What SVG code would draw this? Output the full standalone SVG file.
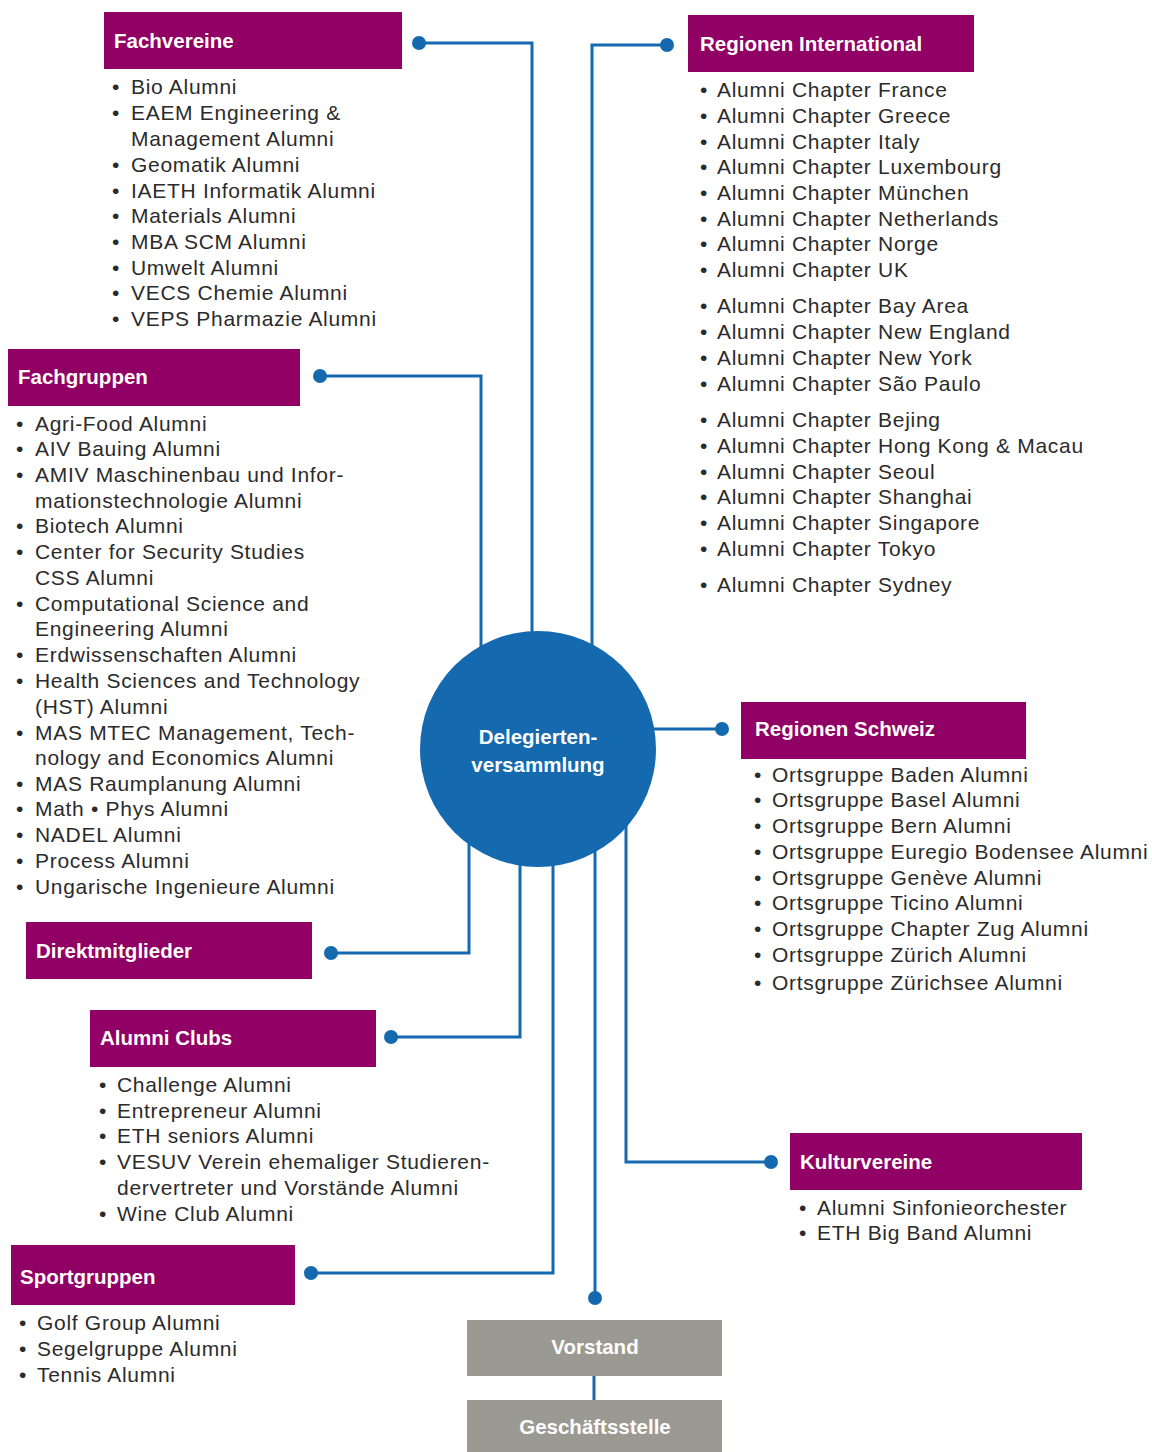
<svg xmlns="http://www.w3.org/2000/svg" width="1152" height="1452" viewBox="0 0 1152 1452">
<style>
.hdr{fill:#910064}
.gry{fill:#9b9a92}
.ht{font-family:"Liberation Sans",Arial,sans-serif;font-weight:bold;font-size:20.5px;fill:#fff}
.ct{font-family:"Liberation Sans",Arial,sans-serif;font-weight:bold;font-size:20.5px;fill:#fff;text-anchor:middle}
.li{font-family:"Liberation Sans",Arial,sans-serif;font-size:21px;letter-spacing:0.7px;fill:#2b2b2b}
.con{fill:none;stroke:#1569af;stroke-width:3}
.dot{fill:#1569af}
</style>
<rect width="1152" height="1452" fill="#fff"/>
<g id="connectors">
<path class="con" d="M419,43 H532 V700"/>
<circle class="dot" cx="419" cy="43" r="7"/>
<path class="con" d="M667,45 H592 V700"/>
<circle class="dot" cx="667" cy="45" r="7"/>
<path class="con" d="M320,376 H481 V700"/>
<circle class="dot" cx="320" cy="376" r="7"/>
<path class="con" d="M722,729 H620"/>
<circle class="dot" cx="722" cy="729" r="7"/>
<path class="con" d="M331,953 H469 V800"/>
<circle class="dot" cx="331" cy="953" r="7"/>
<path class="con" d="M391,1037 H520 V800"/>
<circle class="dot" cx="391" cy="1037" r="7"/>
<path class="con" d="M311,1273 H553 V800"/>
<circle class="dot" cx="311" cy="1273" r="7"/>
<path class="con" d="M595,800 V1298"/>
<circle class="dot" cx="595" cy="1298" r="7"/>
<path class="con" d="M771,1162 H626 V800"/>
<circle class="dot" cx="771" cy="1162" r="7"/>
<path class="con" d="M594,1370 V1405"/>
</g>
<g id="delegiertenversammlung">
<circle cx="538" cy="749" r="118" fill="#1569af"/>
<text class="ct" x="538" y="744">Delegierten-</text>
<text class="ct" x="538" y="772">versammlung</text>
</g>
<g id="fachvereine">
<rect class="hdr" x="104" y="12" width="298" height="57"/>
<text class="ht" x="114" y="48">Fachvereine</text>
<text class="li"><tspan x="112" y="94">•</tspan><tspan x="131" y="94">Bio Alumni</tspan><tspan x="112" y="120">•</tspan><tspan x="131" y="120">EAEM Engineering &amp;</tspan><tspan x="131" y="146">Management Alumni</tspan><tspan x="112" y="172">•</tspan><tspan x="131" y="172">Geomatik Alumni</tspan><tspan x="112" y="198">•</tspan><tspan x="131" y="198">IAETH Informatik Alumni</tspan><tspan x="112" y="223">•</tspan><tspan x="131" y="223">Materials Alumni</tspan><tspan x="112" y="249">•</tspan><tspan x="131" y="249">MBA SCM Alumni</tspan><tspan x="112" y="275">•</tspan><tspan x="131" y="275">Umwelt Alumni</tspan><tspan x="112" y="300">•</tspan><tspan x="131" y="300">VECS Chemie Alumni</tspan><tspan x="112" y="326">•</tspan><tspan x="131" y="326">VEPS Pharmazie Alumni</tspan></text>
</g>
<g id="regionen-international">
<rect class="hdr" x="688" y="15" width="286" height="57"/>
<text class="ht" x="700" y="51">Regionen International</text>
<text class="li"><tspan x="700" y="97">•</tspan><tspan x="717" y="97">Alumni Chapter France</tspan><tspan x="700" y="123">•</tspan><tspan x="717" y="123">Alumni Chapter Greece</tspan><tspan x="700" y="149">•</tspan><tspan x="717" y="149">Alumni Chapter Italy</tspan><tspan x="700" y="174">•</tspan><tspan x="717" y="174">Alumni Chapter Luxembourg</tspan><tspan x="700" y="200">•</tspan><tspan x="717" y="200">Alumni Chapter München</tspan><tspan x="700" y="226">•</tspan><tspan x="717" y="226">Alumni Chapter Netherlands</tspan><tspan x="700" y="251">•</tspan><tspan x="717" y="251">Alumni Chapter Norge</tspan><tspan x="700" y="277">•</tspan><tspan x="717" y="277">Alumni Chapter UK</tspan><tspan x="700" y="313">•</tspan><tspan x="717" y="313">Alumni Chapter Bay Area</tspan><tspan x="700" y="339">•</tspan><tspan x="717" y="339">Alumni Chapter New England</tspan><tspan x="700" y="365">•</tspan><tspan x="717" y="365">Alumni Chapter New York</tspan><tspan x="700" y="391">•</tspan><tspan x="717" y="391">Alumni Chapter São Paulo</tspan><tspan x="700" y="427">•</tspan><tspan x="717" y="427">Alumni Chapter Bejing</tspan><tspan x="700" y="453">•</tspan><tspan x="717" y="453">Alumni Chapter Hong Kong &amp; Macau</tspan><tspan x="700" y="479">•</tspan><tspan x="717" y="479">Alumni Chapter Seoul</tspan><tspan x="700" y="504">•</tspan><tspan x="717" y="504">Alumni Chapter Shanghai</tspan><tspan x="700" y="530">•</tspan><tspan x="717" y="530">Alumni Chapter Singapore</tspan><tspan x="700" y="556">•</tspan><tspan x="717" y="556">Alumni Chapter Tokyo</tspan><tspan x="700" y="592">•</tspan><tspan x="717" y="592">Alumni Chapter Sydney</tspan></text>
</g>
<g id="fachgruppen">
<rect class="hdr" x="8" y="349" width="292" height="57"/>
<text class="ht" x="18" y="384">Fachgruppen</text>
<text class="li"><tspan x="16" y="431">•</tspan><tspan x="35" y="431">Agri-Food Alumni</tspan><tspan x="16" y="456">•</tspan><tspan x="35" y="456">AIV Bauing Alumni</tspan><tspan x="16" y="482">•</tspan><tspan x="35" y="482">AMIV Maschinenbau und Infor-</tspan><tspan x="35" y="508">mationstechnologie Alumni</tspan><tspan x="16" y="533">•</tspan><tspan x="35" y="533">Biotech Alumni</tspan><tspan x="16" y="559">•</tspan><tspan x="35" y="559">Center for Security Studies</tspan><tspan x="35" y="585">CSS Alumni</tspan><tspan x="16" y="611">•</tspan><tspan x="35" y="611">Computational Science and</tspan><tspan x="35" y="636">Engineering Alumni</tspan><tspan x="16" y="662">•</tspan><tspan x="35" y="662">Erdwissenschaften Alumni</tspan><tspan x="16" y="688">•</tspan><tspan x="35" y="688">Health Sciences and Technology</tspan><tspan x="35" y="714">(HST) Alumni</tspan><tspan x="16" y="740">•</tspan><tspan x="35" y="740">MAS MTEC Management, Tech-</tspan><tspan x="35" y="765">nology and Economics Alumni</tspan><tspan x="16" y="791">•</tspan><tspan x="35" y="791">MAS Raumplanung Alumni</tspan><tspan x="16" y="816">•</tspan><tspan x="35" y="816">Math • Phys Alumni</tspan><tspan x="16" y="842">•</tspan><tspan x="35" y="842">NADEL Alumni</tspan><tspan x="16" y="868">•</tspan><tspan x="35" y="868">Process Alumni</tspan><tspan x="16" y="894">•</tspan><tspan x="35" y="894">Ungarische Ingenieure Alumni</tspan></text>
</g>
<g id="regionen-schweiz">
<rect class="hdr" x="741" y="702" width="285" height="57"/>
<text class="ht" x="755" y="736">Regionen Schweiz</text>
<text class="li"><tspan x="754" y="782">•</tspan><tspan x="772" y="782">Ortsgruppe Baden Alumni</tspan><tspan x="754" y="807">•</tspan><tspan x="772" y="807">Ortsgruppe Basel Alumni</tspan><tspan x="754" y="833">•</tspan><tspan x="772" y="833">Ortsgruppe Bern Alumni</tspan><tspan x="754" y="859">•</tspan><tspan x="772" y="859">Ortsgruppe Euregio Bodensee Alumni</tspan><tspan x="754" y="885">•</tspan><tspan x="772" y="885">Ortsgruppe Genève Alumni</tspan><tspan x="754" y="910">•</tspan><tspan x="772" y="910">Ortsgruppe Ticino  Alumni</tspan><tspan x="754" y="936">•</tspan><tspan x="772" y="936">Ortsgruppe Chapter Zug Alumni</tspan><tspan x="754" y="962">•</tspan><tspan x="772" y="962">Ortsgruppe Zürich Alumni</tspan><tspan x="754" y="990">•</tspan><tspan x="772" y="990">Ortsgruppe Zürichsee Alumni</tspan></text>
</g>
<g id="direktmitglieder">
<rect class="hdr" x="26" y="922" width="286" height="57"/>
<text class="ht" x="36" y="958">Direktmitglieder</text>
</g>
<g id="alumni-clubs">
<rect class="hdr" x="90" y="1010" width="286" height="57"/>
<text class="ht" x="100" y="1045">Alumni Clubs</text>
<text class="li"><tspan x="99" y="1092">•</tspan><tspan x="117" y="1092">Challenge Alumni</tspan><tspan x="99" y="1118">•</tspan><tspan x="117" y="1118">Entrepreneur Alumni</tspan><tspan x="99" y="1143">•</tspan><tspan x="117" y="1143">ETH seniors Alumni</tspan><tspan x="99" y="1169">•</tspan><tspan x="117" y="1169">VESUV Verein ehemaliger Studieren-</tspan><tspan x="117" y="1195">dervertreter und Vorstände Alumni</tspan><tspan x="99" y="1221">•</tspan><tspan x="117" y="1221">Wine Club Alumni</tspan></text>
</g>
<g id="kulturvereine">
<rect class="hdr" x="790" y="1133" width="292" height="57"/>
<text class="ht" x="800" y="1169">Kulturvereine</text>
<text class="li"><tspan x="799" y="1215">•</tspan><tspan x="817" y="1215">Alumni Sinfonieorchester</tspan><tspan x="799" y="1240">•</tspan><tspan x="817" y="1240">ETH Big Band Alumni</tspan></text>
</g>
<g id="sportgruppen">
<rect class="hdr" x="11" y="1245" width="284" height="60"/>
<text class="ht" x="20" y="1284">Sportgruppen</text>
<text class="li"><tspan x="19" y="1330">•</tspan><tspan x="37" y="1330">Golf Group Alumni</tspan><tspan x="19" y="1356">•</tspan><tspan x="37" y="1356">Segelgruppe Alumni</tspan><tspan x="19" y="1382">•</tspan><tspan x="37" y="1382">Tennis Alumni</tspan></text>
</g>
<g id="vorstand">
<rect class="gry" x="467" y="1320" width="255" height="56"/>
<text class="ct" x="595" y="1354">Vorstand</text>
</g>
<g id="geschaeftsstelle">
<rect class="gry" x="467" y="1400" width="255" height="52"/>
<text class="ct" x="595" y="1434">Geschäftsstelle</text>
</g>
</svg>
